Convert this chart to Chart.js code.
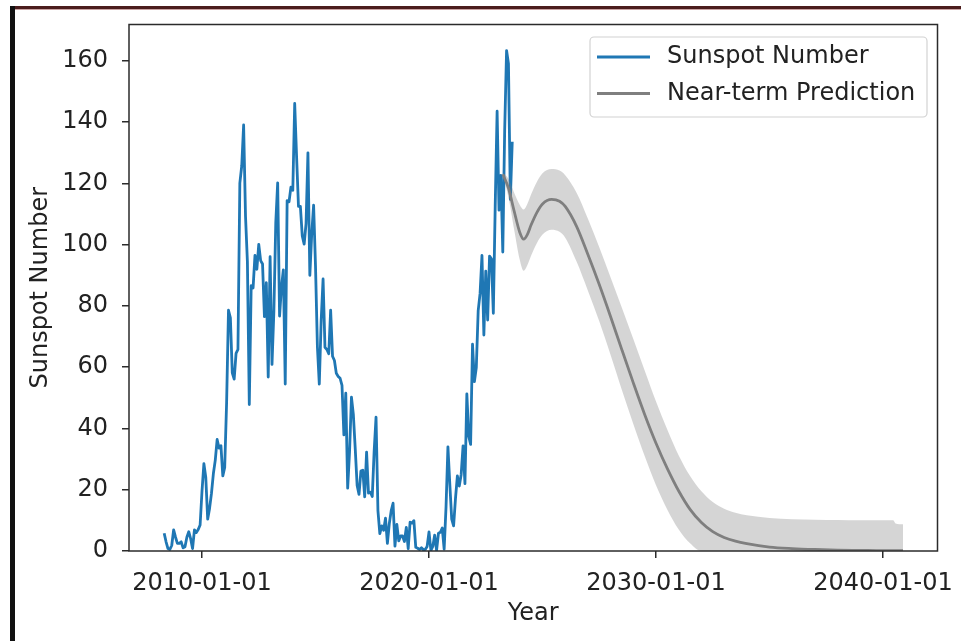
<!DOCTYPE html>
<html>
<head>
<meta charset="utf-8">
<title>Sunspot Number</title>
<script src="https://cdn.jsdelivr.net/npm/chart.js@4/dist/chart.umd.min.js"></script>
<style>
  html, body { margin: 0; padding: 0; background: #fff; }
  body { width: 961px; height: 641px; position: relative; overflow: hidden; }
  #edgeTop { position: absolute; left: 10px; top: 6px; width: 951px; height: 3px; background: #4b1d1d; border-bottom: 1px solid #c9a3a3; }
  #edgeLeft { position: absolute; left: 10px; top: 6px; width: 5px; height: 635px; background: #111; }
  #wrap { position: absolute; left: 0; top: 0; width: 961px; height: 641px; }
</style>
</head>
<body>
<div id="edgeTop"></div>
<div id="edgeLeft"></div>
<div id="wrap"><canvas id="chart" width="961" height="641"></canvas></div>
<script>
// Monthly mean sunspot number, one value per month starting May 2008
const sunspotStartYear = 2008;
const sunspotStartMonth = 5;
const sunspotNumber = [
  // 2008 (May-Dec)
  5.8, 3.0, 0.8, 0.5, 1.8, 6.9, 4.5, 2.5,
  // 2009
  2.5, 3.0, 1.0, 1.4, 4.5, 6.3, 4.0, 0.8, 6.9, 6.0, 7.0, 8.5,
  // 2010
  19.6, 28.5, 24.0, 10.4, 13.9, 18.8, 25.2, 29.6, 36.4, 33.6, 34.4, 24.5,
  // 2011
  27.3, 48.3, 78.6, 76.1, 58.2, 56.1, 64.5, 65.8, 120.1, 125.7, 139.1, 109.3,
  // 2012
  94.4, 47.8, 86.6, 85.9, 96.5, 92.0, 100.1, 94.8, 93.7, 76.5, 87.6, 56.8,
  // 2013
  96.1, 60.9, 78.3, 107.3, 120.2, 76.7, 86.2, 91.8, 54.5, 114.4, 114.0, 118.8,
  // 2014
  117.8, 146.1, 128.7, 112.5, 112.5, 102.9, 100.2, 106.9, 130.0, 90.0, 103.6, 112.9,
  // 2015
  93.0, 66.7, 54.5, 75.3, 88.8, 66.5, 65.8, 64.4, 78.6, 63.6, 62.2, 58.0,
  // 2016
  57.0, 56.4, 54.1, 37.9, 51.5, 20.5, 32.4, 50.2, 44.6, 33.4, 21.4, 18.5,
  // 2017
  26.1, 26.4, 17.7, 32.3, 18.9, 19.2, 17.8, 32.6, 43.7, 13.2, 5.7, 8.2,
  // 2018
  6.8, 10.7, 2.5, 8.9, 13.1, 15.6, 1.6, 8.7, 3.3, 4.9, 4.9, 3.1,
  // 2019
  7.7, 0.8, 9.4, 9.1, 9.9, 1.2, 0.9, 0.5, 1.1, 0.4, 0.5, 1.5,
  // 2020
  6.2, 0.2, 1.5, 5.2, 0.2, 5.8, 6.1, 7.5, 0.6, 14.4, 34.0, 21.8,
  // 2021
  10.4, 8.2, 17.2, 24.5, 21.2, 25.0, 34.3, 22.0, 51.3, 37.4, 34.8, 67.5,
  // 2022
  55.3, 59.9, 78.5, 84.1, 96.5, 70.5, 91.4, 75.4, 96.3, 95.4, 77.6, 112.8,
  // 2023 (Jan-Sep)
  143.6, 111.3, 122.6, 97.6, 137.4, 163.4, 159.1, 114.8, 133.6
];

// Near-term prediction: decimal year, predicted value and its upper / lower bound
const predYear = [2023.25, 2023.5, 2023.75, 2024.0, 2024.17, 2024.33, 2024.5, 2024.75, 2025.0, 2025.4,
  2025.75, 2026.0, 2026.5, 2027.0, 2027.5, 2028.0, 2028.5, 2029.0, 2029.5, 2030.0, 2030.5, 2031.0,
  2031.5, 2032.0, 2032.5, 2033.0, 2033.5, 2034.0, 2035.0, 2036.0, 2037.0, 2038.0, 2039.0, 2040.0,
  2040.45, 2040.55, 2040.88];
const predValue = [123.0, 118.5, 111.0, 104.0, 101.8, 103.3, 106.5, 110.5, 113.3, 114.8,
  114.2, 112.5, 106.0, 96.8, 87.0, 76.5, 65.6, 54.9, 44.6, 35.2, 26.9, 19.6,
  13.6, 9.3, 6.3, 4.4, 3.2, 2.4, 1.3, 0.8, 0.5, 0.3, 0.2, 0.1,
  0.1, 0.1, 0.1];
const predHigh = [123.5, 121.5, 117.0, 113.0, 111.5, 113.3, 116.5, 120.5, 123.3, 124.7,
  124.2, 122.7, 117.0, 108.5, 99.2, 89.3, 79.3, 69.2, 58.9, 48.8, 39.6, 31.2,
  24.5, 19.5, 16.0, 13.8, 12.5, 11.7, 10.8, 10.4, 10.2, 10.1, 10.0, 10.0,
  10.0, 9.0, 8.7];
const predLow = [122.5, 115.5, 105.0, 95.0, 91.5, 93.3, 96.5, 100.5, 103.3, 104.9,
  104.2, 102.3, 94.5, 85.0, 75.0, 64.0, 52.5, 41.5, 31.0, 21.5, 13.5, 7.0,
  2.5, 0, 0, 0, 0, 0, 0, 0, 0, 0, 0, 0,
  0, 0, 0];

// Axis ticks and limits
const yearTicks = [2010, 2020, 2030, 2040];
const valueTicks = [0, 20, 40, 60, 80, 100, 120, 140, 160];
const yearRange = [2006.784, 2042.40];
const valueRange = [0, 171.9];

const sunspotPoints = sunspotNumber.map((v, i) => ({
  x: sunspotStartYear + (sunspotStartMonth - 1 + i) / 12,
  y: v
}));
const toPoints = (arr) => arr.map((v, i) => ({ x: predYear[i], y: v }));

const FONT = '"DejaVu Sans", "Liberation Sans", sans-serif';
const FONT_SIZE = 24;
const INK = '#222222';

// Box around the plotting area
const axesFrame = {
  id: 'axesFrame',
  afterDatasetsDraw(chart) {
    const { ctx, chartArea: a } = chart;
    ctx.save();
    ctx.strokeStyle = '#2b2b2b';
    ctx.lineWidth = 1.5;
    ctx.strokeRect(a.left, a.top, a.right - a.left, a.bottom - a.top);
    ctx.restore();
  }
};

// Framed legend in the upper right corner of the plotting area
const boxLegend = {
  id: 'boxLegend',
  afterDraw(chart) {
    const { ctx, chartArea: a } = chart;
    const items = chart.data.datasets.filter(d => d.showInLegend);
    const w = 337, h = 80, rowH = 36.5;
    const x0 = a.right - 10.5 - w, y0 = a.top + 12.5;
    ctx.save();
    ctx.fillStyle = 'rgba(255,255,255,0.85)';
    ctx.strokeStyle = '#d2d2d2';
    ctx.lineWidth = 1.2;
    ctx.beginPath();
    if (ctx.roundRect) ctx.roundRect(x0, y0, w, h, 4); else ctx.rect(x0, y0, w, h);
    ctx.fill();
    ctx.stroke();
    ctx.font = FONT_SIZE + 'px ' + FONT;
    ctx.textBaseline = 'middle';
    ctx.textAlign = 'left';
    items.forEach((d, i) => {
      const cy = y0 + 20 + i * rowH;
      ctx.strokeStyle = d.borderColor;
      ctx.lineWidth = 2.8;
      ctx.beginPath();
      ctx.moveTo(x0 + 7, cy);
      ctx.lineTo(x0 + 60, cy);
      ctx.stroke();
      ctx.fillStyle = INK;
      ctx.fillText(d.label, x0 + 77, cy);
    });
    ctx.restore();
  }
};

new Chart(document.getElementById('chart'), {
  type: 'line',
  data: {
    datasets: [
      {
        label: 'Sunspot Number',
        showInLegend: true,
        data: sunspotPoints,
        borderColor: '#1f77b4',
        borderWidth: 2.8,
        borderJoinStyle: 'round',
        pointRadius: 0,
        tension: 0,
        fill: false,
        order: 3
      },
      {
        label: 'Prediction upper bound',
        data: toPoints(predHigh),
        borderWidth: 0,
        borderColor: 'rgba(0,0,0,0)',
        backgroundColor: 'rgba(128,128,128,0.33)',
        pointRadius: 0,
        cubicInterpolationMode: 'monotone',
        fill: '+1',
        order: 2
      },
      {
        label: 'Prediction lower bound',
        data: toPoints(predLow),
        borderWidth: 0,
        borderColor: 'rgba(0,0,0,0)',
        pointRadius: 0,
        cubicInterpolationMode: 'monotone',
        fill: false,
        order: 2
      },
      {
        label: 'Near-term Prediction',
        showInLegend: true,
        data: toPoints(predValue),
        borderColor: '#7f7f7f',
        borderWidth: 2.8,
        pointRadius: 0,
        cubicInterpolationMode: 'monotone',
        fill: false,
        order: 1
      }
    ]
  },
  options: {
    responsive: false,
    animation: false,
    devicePixelRatio: 1,
    layout: { padding: { top: 24.5, right: 23.5, left: 0, bottom: 0 } },
    plugins: {
      legend: { display: false },
      tooltip: { enabled: false }
    },
    scales: {
      x: {
        type: 'linear',
        min: yearRange[0],
        max: yearRange[1],
        afterBuildTicks: (s) => { s.ticks = yearTicks.map(v => ({ value: v })); },
        afterFit: (s) => { s.height = 90; s.paddingLeft = 0; s.paddingRight = 0; },
        ticks: {
          autoSkip: false,
          maxRotation: 0,
          padding: 11,
          color: INK,
          font: { family: FONT, size: FONT_SIZE },
          callback: (v) => v + '-01-01'
        },
        grid: { drawOnChartArea: false, drawTicks: true, tickLength: 7, tickColor: '#2b2b2b', lineWidth: 1.5 },
        border: { display: false },
        title: {
          display: true,
          text: 'Year',
          color: INK,
          font: { family: FONT, size: FONT_SIZE },
          padding: { top: 0, bottom: 12.5 }
        }
      },
      y: {
        type: 'linear',
        min: valueRange[0],
        max: valueRange[1],
        afterBuildTicks: (s) => { s.ticks = valueTicks.map(v => ({ value: v })); },
        afterFit: (s) => { s.width = 129; s.paddingTop = 0; s.paddingBottom = 0; },
        ticks: {
          padding: 14,
          color: INK,
          font: { family: FONT, size: FONT_SIZE }
        },
        grid: { drawOnChartArea: false, drawTicks: true, tickLength: 7, tickColor: '#2b2b2b', lineWidth: 1.5 },
        border: { display: false },
        title: {
          display: true,
          text: 'Sunspot Number',
          color: INK,
          font: { family: FONT, size: FONT_SIZE },
          padding: { top: 26, bottom: 0 }
        }
      }
    }
  },
  plugins: [axesFrame, boxLegend]
});
</script>
</body>
</html>
